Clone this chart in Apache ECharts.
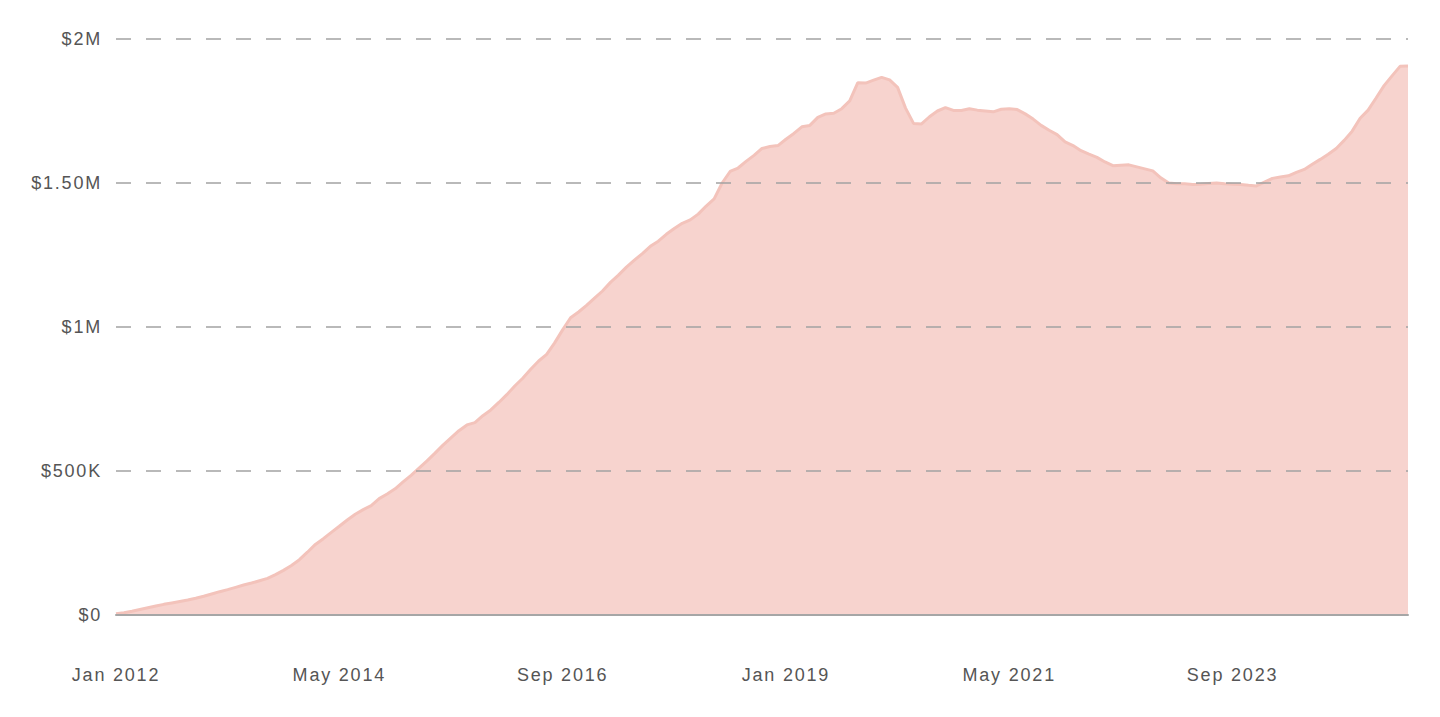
<!DOCTYPE html>
<html>
<head>
<meta charset="utf-8">
<script src="https://cdn.jsdelivr.net/npm/echarts@6/dist/echarts.min.js"></script>
<style>
html,body{margin:0;padding:0;background:#fff;}
#chart{width:1440px;height:717px;}
#chart text{letter-spacing:1.8px;}
</style>
</head>
<body>
<div id="chart"></div>
<script>
// Monthly values (in $M), Jan 2012 .. Jul 2025
const startYear = 2012;
const values = [
0.004,0.008,0.013,0.019,0.025,0.031,0.037,0.042,0.047,0.052,
0.058,0.065,0.073,0.081,0.088,0.096,0.104,0.111,0.119,0.127,
0.140,0.155,0.172,0.192,0.218,0.245,0.265,0.287,0.308,0.330,
0.350,0.366,0.380,0.404,0.420,0.438,0.462,0.485,0.510,0.535,
0.562,0.590,0.615,0.640,0.660,0.668,0.692,0.712,0.738,0.765,
0.795,0.822,0.853,0.882,0.905,0.945,0.990,1.032,1.052,1.075,
1.100,1.125,1.155,1.180,1.208,1.232,1.255,1.280,1.298,1.322,
1.342,1.360,1.372,1.392,1.420,1.445,1.500,1.540,1.552,1.575,
1.596,1.620,1.627,1.630,1.652,1.672,1.695,1.700,1.728,1.740,
1.742,1.758,1.785,1.848,1.847,1.857,1.867,1.858,1.832,1.760,
1.707,1.705,1.730,1.750,1.762,1.752,1.752,1.758,1.753,1.750,
1.747,1.756,1.758,1.755,1.740,1.722,1.700,1.683,1.668,1.643,
1.630,1.612,1.600,1.589,1.573,1.560,1.562,1.563,1.556,1.549,
1.542,1.518,1.500,1.497,1.497,1.495,1.496,1.498,1.500,1.497,
1.496,1.495,1.492,1.490,1.503,1.516,1.521,1.525,1.537,1.547,
1.565,1.582,1.600,1.620,1.648,1.680,1.725,1.753,1.795,1.838,
1.872,1.905,1.906
];
const monthNames = ['Jan','Feb','Mar','Apr','May','Jun','Jul','Aug','Sep','Oct','Nov','Dec'];
const categories = values.map((v,i)=> monthNames[i%12] + ' ' + (startYear + Math.floor(i/12)));
const yTicks = {0:'$0',0.5:'$500K',1:'$1M',1.5:'$1.50M',2:'$2M'};

const chart = echarts.init(document.getElementById('chart'), null, {renderer:'svg'});
chart.setOption({
  animation:false,
  grid:{left:116,right:32,top:39,bottom:102,containLabel:false},
  xAxis:{
    type:'category',
    data:categories,
    boundaryGap:false,
    z:4,
    axisLine:{show:true,lineStyle:{color:'#a6a6a6',width:2}},
    axisTick:{show:false},
    axisLabel:{interval:27,margin:51,color:'#555',fontSize:18,fontFamily:'Liberation Sans, Arial, sans-serif'},
    splitLine:{show:false}
  },
  yAxis:{
    type:'value',
    min:0,max:2,interval:0.5,
    z:3,
    axisLine:{show:false},
    axisTick:{show:false},
    axisLabel:{margin:14,color:'#555',fontSize:18,fontFamily:'Liberation Sans, Arial, sans-serif',
      formatter:v=> yTicks[v] !== undefined ? yTicks[v] : ''},
    splitLine:{show:true,lineStyle:{color:'#a3a3a3',width:1.6,type:[15,15]}}
  },
  series:[{
    type:'line',
    data:values,
    symbol:'none',
    z:2,
    lineStyle:{color:'#f3c3bb',width:3},
    areaStyle:{color:'#f7d3ce',opacity:1}
  }]
});
</script>
</body>
</html>
